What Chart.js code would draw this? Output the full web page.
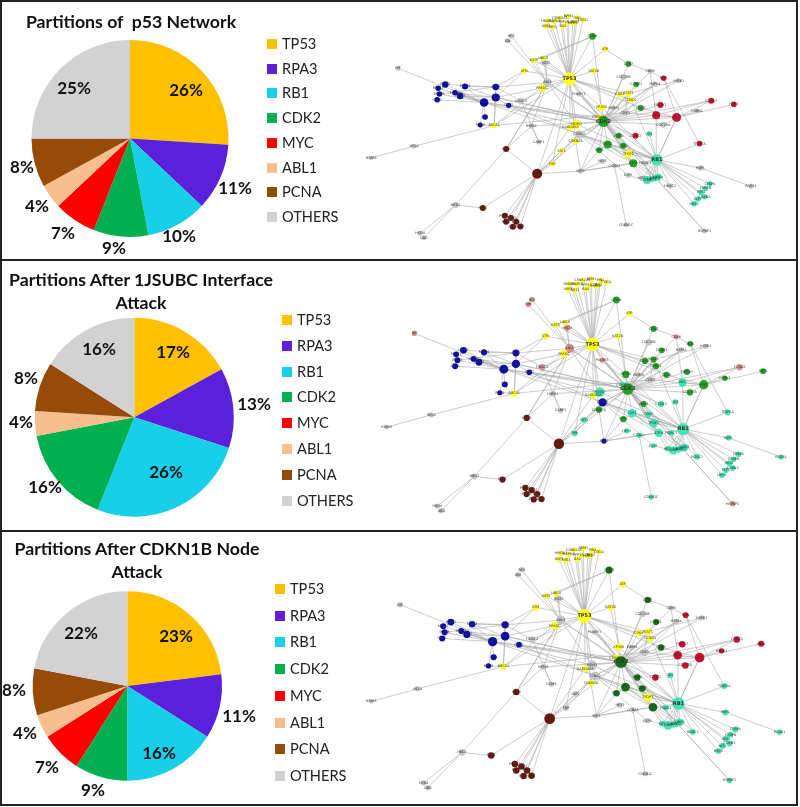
<!DOCTYPE html>
<html><head><meta charset="utf-8">
<script src="https://cdn.jsdelivr.net/npm/chart.js@4"></script>
<style>
html,body{margin:0;padding:0;background:#fff;width:800px;height:807px;overflow:hidden;font-family:Lato,sans-serif;color:#111}
#page{position:relative;width:800px;height:807px}
.rule{position:absolute;background:#222}
canvas{position:absolute;display:block}
canvas.net{filter:blur(.4px)}
.title{position:absolute;font-weight:700;font-size:17.7px;line-height:23px;text-align:center;white-space:pre;transform:translateX(-50%)}
.lg{position:absolute;font-size:14.6px;line-height:20px;color:#222;white-space:pre}
.sw{position:absolute;width:10px;height:10px}
</style></head><body><div id="page"></div>
<script>
// ---------- pie data ----------
const categories = ["TP53","RPA3","RB1","CDK2","MYC","ABL1","PCNA","OTHERS"];
const shareOriginal = [26,11,10,9,7,4,8,25];
const shareInterface = [17,13,26,16,0,4,8,16];
const shareNode = [23,11,16,9,7,4,8,22];
const titleOriginal = "Partitions of  p53 Network";
const titleInterface = "Partitions After 1JSUBC Interface\nAttack";
const titleNode = "Partitions After CDKN1B Node\nAttack";

// ---------- network data (layout units); partition letters: one per panel ----------
const nodeNames = [
"HMGB1","CSNK2A1","NPM1","PIN1","CSE1L","MAPK8","PPP1R13L","HIPK2","USP7","SIRT1","BAX","TP63",
"CCNH","ATR","CDK7","CDK6","MAX","HSPB1","HSPA4","CDC25B","CCNB1","CDK4","STAT1","CCND1","CDC6","FBXW7","NCL","MYC","CDC25A","CDK3","HSBN1","CCND2","HBP1","TFAP2A",
"ID2","CCNE2","CDT1","CDK5","WEE1","SKP2","TFDP1","E2F4","HDAC1","CCNA1","HEY1","E2F5","KIF2","LIN9","LIN37","LIN52","LIN54","HDAC2","RBP1","RAD51","CEBPA","CEBPB","HES1","CDKN3","ELF1","HES5","HSPBP1","CDKN1C","RB1",
"SKP1","FBP","SAT1","CCNA2","CDKN2A","MDM2","GADD45A","CDKN1A","CDK2","EP300","MDM4","POU5F1","KAT2B","TP53","ABL1","PRKDC","HSD3","UBE2I","KAT5","ATM","HDAC3","HSPA1","CABP1","BRCA1","RFX","KIN","HIF","HELA","HSPA5",
"HRAS","PCNA","FEN1","HBD1","HSD4","UBD","POLD1","POLD2","POLE","RFC1","RFC2","LIG1",
"RPA3","RPA1","RPA2","MCM2","MCM3","MCM4","MCM5","MCM6","MCM7","ORC1","ORC2","XPA","RAD9"];
const nodeX = [
530,568,595,622,640,552,590,608,525,545,578,615,
669,708,780,847,889,935,862,765,804,754,780,787,818,879,866,929,888,770,992,1036,1106,1000,
845,802,716,764,750,690,780,795,832,737,700,779,822,838,852,862,872,909,1003,1159,1032,1018,1005,1015,995,983,1015,773,868,
632,545,573,628,617,620,600,690,703,697,735,627,673,598,530,513,523,517,488,458,448,480,503,365,418,407,68,118,-15,
402,498,330,246,136,148,398,417,433,402,423,446,
334,370,370,214,192,275,196,244,260,189,410,337,322];
const nodeY = [
45,35,30,35,41,47,50,52,62,65,62,50,
94,135,181,205,226,234,244,222,246,278,274,294,320,311,343,350,373,335,330,297,309,433,
402,408,436,440,408,454,466,495,496,503,489,534,543,548,545,543,539,567,510,568,560,575,587,601,608,623,709,689,484,
520,497,456,403,425,372,382,350,363,319,320,276,203,228,240,257,178,162,170,203,297,377,428,376,93,108,195,441,478,
450,528,636,627,716,730,661,668,680,680,696,695,
303,287,254,246,258,252,276,272,282,294,312,349,374];
const nodeWeight = [
2.5,2.5,2.5,2.5,2.5,2.5,2.5,2.5,2.5,2.5,2.5,2.5,
3.3,2.8,3,2.5,2.7,2.5,2.5,3,2.8,3,3,3,3,3,4,4.5,3,3.5,2.5,3,2.8,2.8,
2.7,3,4,3,3,3,4,4,2.7,2.5,2.5,2.5,2.7,4,3,3,3.5,2.7,2.7,2.5,2.7,2.7,2.7,2.7,2.7,2.7,2.5,2.5,5.8,
2.5,2.7,2.7,4,3,4.5,3,3,5.5,3.5,2.5,2.5,2.8,6.5,4.3,3.7,3,2.7,2.7,3,3,2.8,2.5,3,2.5,2.5,2.5,2.5,2.2,
3,5,3,3,2.5,2.5,3,3,3,3,3,3,
4.3,4,3.3,3.2,2.8,3,2.8,2.8,3.3,2.8,2.7,2.8,2.5];
const partitionOriginal =
"YYYYYYYYYYYY"+"GYGSRSSSGYYYGRRRSSSRRR"+"TRGGGGYGSSSSSTTTTSSSTTTTTTSST"+"SYYSYYYYGYSSYYSYSYYYSSSYSSSSS"+"NNNSSSNNNNNN"+"BBBBBBBBBBBBB";
const partitionInterface =
"YYYYYYYYYYYY"+"GYGPGSSSGGGGGGTGGSGPGT"+"TTTTGGTTTTTTTTTTTTTTTTTTTTPTT"+"BTTBGTYTGGSPYYPYPYYYPSSYPPPSS"+"NNNSSSNNNNNN"+"BBBBBBBBBBBBB";
const partitionNode =
"YYYYYYYYYYYY"+"GYGSRSSSGYYYGRRRRSRRRT"+"TRGGGGYGTSSSTTTTTTTTTTTTTTTST"+"SSSSYSYYGYSSYYSYSYYYSSSYSSSSS"+"NNNSSSNNNNNN"+"BBBBBBBBBBBBB";

// ---------- network links ----------
const tp53Links = ["HMGB1","CSNK2A1","NPM1","PIN1","CSE1L","MAPK8","PPP1R13L","HIPK2","USP7","SIRT1","BAX","TP63","CCNH","ATR","ATM","PRKDC","ABL1","KAT2B","CDK4","STAT1","CCND1","EP300","CDKN1A","CDK2","MDM2","GADD45A","POU5F1","CDKN2A","FBP","PCNA","BRCA1","HDAC3","HSD3","UBE2I","KAT5","CDC6"];
const cdk2Links = ["CDC25B","CDK7","CDK4","STAT1","CCND1","CDC6","CDK3","NCL","MYC","CDC25A","CCNE2","WEE1","CDT1","CDK5","SKP2","TFDP1","CDK6","HSPA4","HSPB1","CCNB1","CCND2","RB1","ORC2","RPA1","RPA3","SKP1","HSPBP1","MDM4","E2F4","CCNA2","FBXW7","CCNH"];
const rb1Links = ["ID2","TFAP2A","RBP1","CEBPA","CEBPB","HES1","CDKN3","ELF1","HES5","LIN9","LIN37","LIN52","LIN54","HDAC2","TFDP1","E2F4","CDT1","CDK5","MYC","NCL","STAT1","HDAC1","KIF2","CCNA2","RPA3","MDM2","EP300","POU5F1"];
const pcnaLinks = ["HRAS","FEN1","POLD1","POLD2","POLE","RFC1","RFC2","LIG1","SKP1","FBP","SAT1","CCNA2","GADD45A","CDK2"];
const rpa3Links = ["MCM2","MCM3","MCM5","MCM6","MCM7","ORC1","XPA","RAD9","MCM4","RPA1","HIF","CDKN1A","MDM2"];
const rpa1Links = ["RPA2","MCM7","ATM","PRKDC","MCM4","BRCA1","CDK2","MCM6","ORC2"];
const rpa2Links = ["MCM2","MCM4","ATM","MCM5","ABL1"];
const abl1Links = ["RFX","KIN","HSD3","UBE2I","KAT5","PRKDC","HSPA1","BRCA1","HRAS","CDKN1A","CDK2"];
const mycLinks = ["CCND2","HBP1","HSBN1","MAX","NCL","RB1","CDC6"];
const otherPairs = [["ATR","CDK7"],["CDK7","CDK6"],["CDK6","MAX"],["MAX","TFAP2A"],["CCNH","UBE2I"],["CCNH","KAT5"],["NCL","CCND2"],["NCL","CDK6"],
["HBD1","HRAS"],["HBD1","FEN1"],["HBD1","HSD4"],["HBD1","UBD"],["HELA","BRCA1"],["HELA","HSPA5"],["BRCA1","RAD9"],["BRCA1","RPA2"],["BRCA1","CDK3"],
["SKP1","E2F4"],["SKP1","CCNA1"],["SKP1","SKP2"],["SKP1","HEY1"],["CCNA1","CDKN1C"],["CCNA1","E2F4"],["RBP1","RAD51"],["HSPA1","CABP1"],["HSPA1","CDK2"],["HSPA1","HRAS"],
["HDAC3","RPA2"],["HDAC3","CABP1"],["HRAS","ABL1"],["CCNA2","FBP"],["CCNA2","SAT1"],["CCNA2","CDKN2A"],["CCNA2","CDK2"],["CCNA2","E2F5"],["CCNA2","E2F4"],["CDKN2A","SKP1"],["CDKN2A","CDK2"],
["MDM2","CDK2"],["MDM2","ABL1"],["POU5F1","CDK2"],["POU5F1","HDAC1"],["CDK3","STAT1"],["CDK3","MYC"],["CDK3","HSPA4"],["CDC25A","MYC"],["KAT2B","EP300"],["HSPB1","STAT1"],["HSPA4","CCND1"],
["E2F5","LIN9"],["HDAC1","LIN37"],["KIF2","LIN52"],["KIF2","CDK2"],["HDAC2","CDK2"],["E2F4","LIN9"],["CDT1","LIN52"],["CDT1","LIN54"],["SKP2","CDT1"],["ORC2","TFDP1"],["HSPBP1","CDK2"]];

// ---------- styles ----------
const sliceColours = ["#FFC000","#5A20DA","#17CFE8","#00B050","#FF0000","#F7BE8E","#964B08","#D2D2D2"];
const partitionColours = {Y:"#FFFF22",B:"#0B0BB0",G:"#22A322",R:"#CC1030",T:"#3FE3B4",N:"#6A1710",S:"#C6C6C6",P:"#D98E8E"};
const partitionColoursNode = Object.assign({},partitionColours,{G:"#146E14"});
const page = document.getElementById("page");

function frameLine(l,t,w,h){const d=document.createElement("div");d.className="rule";Object.assign(d.style,{left:l+"px",top:t+"px",width:w+"px",height:h+"px"});page.appendChild(d);}
frameLine(0,0,798,2);frameLine(0,259,798,2);frameLine(0,530,798,2);frameLine(0,804,798,2);
frameLine(0,0,2,806);frameLine(796,0,2,806);

const pieLabelPlugin = {id:"pieLabels",afterDatasetsDraw(chart,_,o){
  const c=chart.ctx;c.save();c.font="700 17px Lato";c.fillStyle="#111";c.textAlign="center";c.textBaseline="middle";
  chart.data.datasets[0].data.forEach((v,i)=>{if(v>0){c.fillText(v+"%",o.spots[i][0]-o.left,o.spots[i][1]-o.top);}});
  c.restore();}};

const netLabelPlugin = {id:"netLabels",afterDatasetsDraw(chart){
  const c=chart.ctx,xs=chart.scales.x,ys=chart.scales.y;c.save();c.textAlign="center";c.textBaseline="middle";c.fillStyle="#333";
  nodeNames.forEach((n,i)=>{const big=nodeWeight[i]>=5.5;c.font=(big?"700 5px":"3.4px")+" 'DejaVu Sans'";
    c.fillText(n,xs.getPixelForValue(nodeX[i]),ys.getPixelForValue(nodeY[i]));});
  c.restore();}};

function buildPie(values,g){
  const cv=document.createElement("canvas");const W=345,H=g.bottom-g.top;
  cv.width=W;cv.height=H;cv.style.cssText=`left:0;top:${g.top}px;width:${W}px;height:${H}px`;page.appendChild(cv);
  const pad={left:g.cx-g.r,right:W-g.cx-g.r,top:g.cy-g.r-g.top,bottom:H-(g.cy-g.top)-g.r};
  new Chart(cv,{type:"pie",data:{labels:categories,datasets:[{data:values,backgroundColor:sliceColours,borderWidth:0}]},
    options:{responsive:false,animation:false,layout:{padding:pad},
      plugins:{legend:{display:false},tooltip:{enabled:false},pieLabels:{spots:g.spots,left:0,top:g.top}}},plugins:[pieLabelPlugin]});
}
function addTitle(text,cx,y){const d=document.createElement("div");d.className="title";d.textContent=text;d.style.left=cx+"px";d.style.top=y+"px";page.appendChild(d);}
function addLegend(sx,tx,y0,step){categories.forEach((c,i)=>{
  const y=y0+i*step;const s=document.createElement("div");s.className="sw";s.style.cssText=`left:${sx}px;top:${y-5}px;background:${sliceColours[i]}`;page.appendChild(s);
  const t=document.createElement("div");t.className="lg";t.textContent=c;t.style.left=tx+"px";t.style.top=(y-10)+"px";page.appendChild(t);});}

function buildEdges(){
  const seg=[];const push=(a,b)=>{const i=nodeNames.indexOf(a),j=nodeNames.indexOf(b);if(i<0||j<0)return;
    seg.push({x:nodeX[i],y:nodeY[i]},{x:nodeX[j],y:nodeY[j]},{x:null,y:null});};
  [["TP53",tp53Links],["CDK2",cdk2Links],["RB1",rb1Links],["PCNA",pcnaLinks],["RPA3",rpa3Links],["RPA1",rpa1Links],["RPA2",rpa2Links],["ABL1",abl1Links],["MYC",mycLinks]]
    .forEach(([h,l])=>l.forEach(t=>push(h,t)));
  otherPairs.forEach(p=>push(p[0],p[1]));return seg;}

function buildNet(partition,palette,g){
  const cv=document.createElement("canvas");cv.className="net";cv.width=g.w;cv.height=g.h;
  cv.style.cssText=`left:${g.left}px;top:${g.top}px;width:${g.w}px;height:${g.h}px`;page.appendChild(cv);
  new Chart(cv,{type:"scatter",data:{datasets:[
    {order:2,data:buildEdges(),showLine:true,spanGaps:false,pointRadius:0,borderColor:"rgba(165,165,165,.7)",borderWidth:.8},
    {order:1,data:nodeNames.map((n,i)=>({x:nodeX[i],y:nodeY[i]})),
     pointRadius:nodeWeight.map(r=>r*g.k),pointBorderWidth:0,
     pointBackgroundColor:nodeNames.map((n,i)=>palette[partition[i]])}]},
    options:{responsive:false,animation:false,layout:{padding:0},
      plugins:{legend:{display:false},tooltip:{enabled:false}},
      scales:{x:{type:"linear",display:false,min:g.x0,max:g.x1},y:{type:"linear",display:false,reverse:true,min:g.y0,max:g.y1}}},
    plugins:[netLabelPlugin]});
}

// panel 1
buildPie(shareOriginal,{top:2,bottom:259,cx:130,cy:138.5,r:98.5,spots:[[186,91],[235,189],[179,237],[114,249],[63,234],[37,207],[22,168],[74,89]]});
addTitle(titleOriginal,131,10);addLegend(267,282,44,24.7);
buildNet(partitionOriginal,partitionColours,{left:355,top:3,w:441,h:256,x0:-45,x1:1278,y0:9,y1:777,k:1});
// panel 2
buildPie(shareInterface,{top:261,bottom:530,cx:134.3,cy:417.3,r:99.5,spots:[[173,353],[254,405],[166,473],[45,488],[0,0],[21,423],[26,379],[99,350]]});
addTitle(titleInterface,141,268);addLegend(282,297,320,25.8);
buildNet(partitionInterface,partitionColours,{left:360,top:262,w:436,h:267,x0:-74,x1:1183.6,y0:-0.2,y1:764.9,k:1.04});
// panel 3
buildPie(shareNode,{top:532,bottom:804,cx:127.3,cy:686,r:94.7,spots:[[176,637],[239,717],[159,754],[93,791],[47,768],[25,734],[14,691],[81,634]]});
addTitle(titleNode,137,537);addLegend(275,290,589,26.7);
buildNet(partitionNode,partitionColoursNode,{left:345,top:532,w:451,h:272,x0:-70.2,x1:1186,y0:3.1,y1:757.2,k:1.08});
</script></body></html>
